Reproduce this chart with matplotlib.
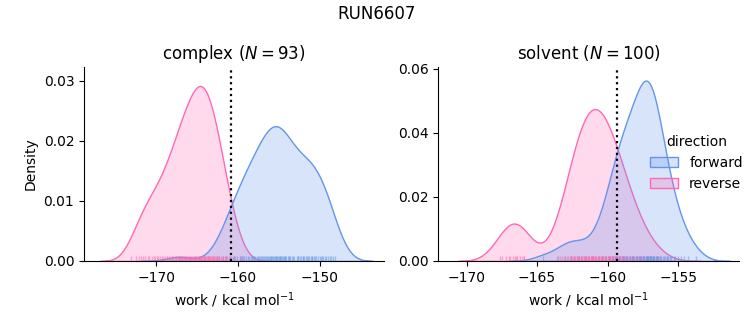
import pandas as pd
import seaborn as sns
import matplotlib
matplotlib.use("Agg")
from matplotlib import pyplot as plt

RUN = "RUN6607"
PHASES = ["complex", "solvent"]
DIRECTIONS = ["forward", "reverse"]
PALETTE = {"forward": "cornflowerblue", "reverse": "hotpink"}

# work values (kcal/mol), one entry per cycle
complex_forward = [
    -167.2, -160.5, -159.5, -162.3, -161.8, -161.4, -161.0, -160.6,
    -160.4, -160.1, -159.8, -159.6, -159.4, -159.2, -159.0, -158.8, -158.6,
    -158.4, -158.3, -158.1, -158.0, -157.9, -157.7, -157.6,
    -157.4, -157.3, -157.2, -157.1, -156.9, -156.8, -156.7, -156.6,
    -156.4, -156.3, -156.2, -156.1, -156.0, -155.9, -155.8, -155.7, -155.6,
    -155.4, -155.3, -155.2, -155.1, -155.0, -154.9, -154.8, -154.7, -154.6,
    -154.4, -154.3, -154.2, -154.1, -153.9, -153.8, -153.7, -153.6,
    -153.4, -153.3, -153.2, -154.5, -155.5, -152.8, -152.7, -152.6,
    -152.4, -152.3, -152.1, -152.0, -151.9, -151.7, -151.6,
    -151.4, -151.3, -151.1, -151.0, -150.9, -150.7, -150.6,
    -150.4, -150.2, -150.0, -149.9, -149.7, -149.6,
    -149.4, -149.2, -149.0, -148.8, -148.6, -148.4, -148.1,
]
complex_reverse = [
    -173.1, -172.5, -172.1, -171.8, -171.6, -171.3,
    -171.0, -170.8, -170.5, -170.3, -170.1, -169.9, -169.7, -169.5, -169.3,
    -169.1, -168.9, -168.7, -168.6, -168.4, -168.3,
    -168.1, -168.0, -167.9, -167.7, -167.6, -167.5, -167.3, -167.2,
    -167.1, -167.0, -166.9, -166.8, -166.7, -166.6, -166.5, -166.4, -166.3, -166.2,
    -166.1, -166.0, -165.9, -165.8, -165.7, -165.6, -165.5, -165.4,
    -165.3, -165.2,
    -165.2, -165.1, -165.0, -164.9, -164.8, -164.8, -164.7, -164.6, -164.5,
    -164.5, -164.4, -164.3, -164.2,
    -164.1, -164.0, -164.0, -163.9, -163.8, -163.7, -163.6, -163.5, -163.5,
    -163.4, -163.3, -163.2,
    -163.1, -163.0, -162.9, -162.8, -162.7, -162.6, -162.5, -162.4, -162.3,
    -162.1, -162.0, -161.8, -161.6, -161.5, -161.3, -161.1, -160.9, -160.5,
    -159.8,
]
solvent_forward = [
    -164.6, -163.5, -163.0, -162.6, -162.4, -162.0, -161.5, -161.0,
    -160.6, -160.4, -160.2, -160.1, -159.9, -159.8,
    -159.7, -159.6, -159.6, -159.5, -159.4, -159.4, -159.3,
    -159.2, -159.2, -159.1, -159.0, -159.0, -158.9, -158.8, -158.8,
    -158.7, -158.7, -158.6, -158.6, -158.5, -158.4, -158.4, -158.3, -158.3,
    -158.2, -158.2, -158.1, -158.0, -158.0, -157.9, -157.9, -157.8, -157.8,
    -157.7, -157.7, -157.6, -157.6, -157.5, -157.5, -157.5, -157.4, -157.4,
    -157.3, -157.3,
    -157.2, -157.2, -157.2, -157.1, -157.1, -157.1, -157.0, -157.0, -157.0,
    -157.0, -156.9, -156.9, -156.9, -156.8, -156.8, -156.8,
    -156.7, -156.7, -156.6, -156.6, -156.5, -156.5, -156.4, -156.4, -156.3, -156.3,
    -156.2, -156.1, -156.0, -155.9, -155.8, -155.8,
    -155.7, -155.6, -155.5, -155.3,
    -155.2, -155.0, -154.8, -154.6, -154.3, -153.7,
]
solvent_reverse = [
    -167.6, -167.5, -167.2, -167.0, -166.9, -166.7, -166.6, -166.5, -166.4,
    -166.2, -166.1, -165.9, -165.9,
    -163.6, -163.4, -163.2, -163.1, -162.9, -162.8,
    -162.7, -162.6, -162.6, -162.5, -162.4, -162.4, -162.3,
    -162.2, -162.2, -162.1, -162.1, -162.0, -161.9, -161.9, -161.8, -161.8,
    -161.7, -161.7, -161.6, -161.6, -161.5, -161.5, -161.4, -161.4, -161.3, -161.3,
    -161.2, -161.2, -161.1, -161.1, -161.0, -161.0, -161.0, -160.9, -160.9,
    -160.8, -160.8,
    -160.7, -160.7, -160.6, -160.6, -160.5, -160.5, -160.4, -160.4, -160.3, -160.3,
    -160.2, -160.2, -160.1, -160.0, -160.0, -159.9, -159.9, -159.8, -159.8,
    -159.7, -159.7, -159.6, -159.5, -159.5, -159.4, -159.3, -159.3,
    -159.2, -159.1, -159.0, -158.9, -158.9, -158.8,
    -158.7, -158.6, -158.4, -158.3, -158.2, -158.0, -157.8,
    -157.6, -157.4, -157.0, -156.4,
]

# free energy estimate per phase (dotted lines)
delta_f = {"complex": -160.9, "solvent": -159.3}
n_cycles = {"complex": 93, "solvent": 100}

rows = []
for phase, direction, works in [
    ("complex", "forward", complex_forward),
    ("complex", "reverse", complex_reverse),
    ("solvent", "forward", solvent_forward),
    ("solvent", "reverse", solvent_reverse),
]:
    for w in works:
        rows.append({"phase": phase, "direction": direction, "work": w})
df = pd.DataFrame(rows)

g = sns.displot(
    data=df, x="work", col="phase", hue="direction", kind="kde",
    fill=True, rug=True, rug_kws=dict(alpha=0.5), palette=PALETTE,
    hue_order=DIRECTIONS, col_order=PHASES,
    facet_kws=dict(sharex=False, sharey=False), height=3, aspect=1.2,
)

fig = g.figure
fig.set_size_inches(7.53, 3.25)
fig.subplots_adjust(left=0.1116, right=0.981, bottom=0.197, top=0.794, wspace=0.18)

xlims = {"complex": (-178.8, -142.1), "solvent": (-172.0, -150.7)}
ylims = {"complex": (0, 0.0323), "solvent": (0, 0.0606)}

for ax, phase in zip(g.axes.flat, PHASES):
    ax.axvline(delta_f[phase], color="k", ls=":", lw=1.6)
    ax.set_title(r"%s ($N=%d$)" % (phase, n_cycles[phase]), fontsize=12)
    ax.set_xlabel(r"work / kcal mol$^{-1}$")
    ax.set_xlim(*xlims[phase])
    ax.set_ylim(*ylims[phase])
g.axes.flat[0].set_ylabel("Density")

fig.suptitle(RUN, fontsize=12, y=0.985)
sns.move_legend(g, "center right", bbox_to_anchor=(1.003, 0.498), frameon=False)

fig.savefig("out.png", dpi=100)
